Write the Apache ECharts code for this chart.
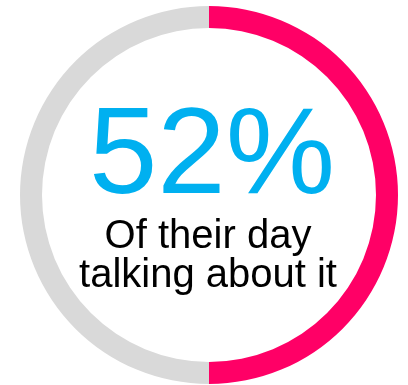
<!DOCTYPE html>
<html>
<head>
<meta charset="utf-8">
<script src="https://cdn.jsdelivr.net/npm/echarts@6/dist/echarts.min.js"></script>
<style>
html,body{margin:0;padding:0;background:#fff;}
#c{width:408px;height:385px;}
</style>
</head>
<body>
<div id="c"></div>
<script>
const categories = ['Talking about it', 'Rest of day'];
const values = [50, 50];
const colors = ['#FF0066', '#D9D9D9'];
const bigLabel = '52%';
const subLabel = ['Of their day', 'talking about it'];

const chart = echarts.init(document.getElementById('c'), null, {renderer: 'canvas'});
chart.setOption({
  animation: false,
  backgroundColor: '#ffffff',
  series: [{
    type: 'pie',
    center: [209, 195],
    radius: [167, 189],
    startAngle: 90,
    clockwise: true,
    silent: true,
    label: {show: false},
    labelLine: {show: false},
    itemStyle: {borderWidth: 0},
    data: categories.map((n, i) => ({name: n, value: values[i], itemStyle: {color: colors[i]}}))
  }],
  graphic: [
    {
      type: 'text',
      style: {
        x: 212, y: 159,
        text: bigLabel,
        fill: '#00B0F0',
        font: '123px "Liberation Sans", Arial, sans-serif',
        textAlign: 'center',
        textVerticalAlign: 'middle'
      }
    },
    {
      type: 'text',
      style: {
        x: 208, y: 256,
        text: subLabel.join('\n'),
        fill: '#000000',
        font: '40px "Liberation Sans", Arial, sans-serif',
        lineHeight: 39,
        textAlign: 'center',
        textVerticalAlign: 'middle'
      }
    }
  ]
});
</script>
</body>
</html>
